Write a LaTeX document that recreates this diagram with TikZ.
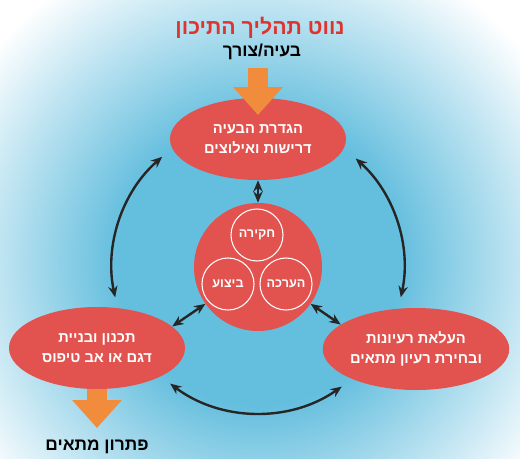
\documentclass[tikz,border=0pt]{standalone}
\usepackage{fontspec}
\setmainfont{Liberation Sans}
\newfontfamily\hebfont[Script=Hebrew]{Liberation Sans}
\TeXXeTstate=1
\usetikzlibrary{arrows.meta,shapes.geometric}
\definecolor{glowblue}{RGB}{100,190,222}
\definecolor{stagered}{RGB}{226,82,78}
\definecolor{titlered}{RGB}{222,52,48}
\definecolor{floworange}{RGB}{240,140,60}
\pgfdeclareradialshading{glow}{\pgfpoint{0bp}{0bp}}{color(0bp)=(glowblue); color(10bp)=(glowblue); color(24bp)=(white); color(50bp)=(white)}
\def\heb#1{\beginR#1\endR}
\tikzset{
	stage/.style={ellipse, fill=stagered, minimum width=132pt, minimum height=61.5pt, inner sep=0pt, text=white, align=center, font=\hebfont\bfseries\fontsize{11}{15}\selectfont},
	hub/.style={circle, fill=stagered, minimum size=96pt, inner sep=0pt},
	phase/.style={circle, draw=white, line width=0.8pt, minimum size=39pt, inner sep=0pt, text=white, font=\hebfont\bfseries\fontsize{9.5}{11}\selectfont},
	link/.style={line width=1.8pt, draw=black!85, {Stealth[length=8.5pt,width=7pt]}-{Stealth[length=8.5pt,width=7pt]}},
	flow/.style={draw=floworange, line width=15pt, -{Triangle[length=21pt,width=36pt]}},
	caption/.style={font=\hebfont\bfseries\fontsize{13}{15}\selectfont}
}

\begin{document}
\begin{tikzpicture}[x=0.75pt, y=0.75pt]
			%%%%% START %%%%%
			
			\useasboundingbox (0, 0) rectangle (520, 458);
			\begin{scope}
				\clip (0, 0) rectangle (520, 458);
				\fill[white] (0, 0) rectangle (520, 458);
				\shade[shading=glow] (258, 195) circle (354);
			\end{scope}
			
			\node[font=\hebfont\bfseries\fontsize{16}{18}\selectfont, text=titlered] (title) at (260, 430) {\heb{נווט תהליך התיכון}};
			\node[caption] (need) at (262, 406) {\heb{בעיה/צורך}};
			
			\node[stage] (define) at (258, 319) {\heb{הגדרת הבעיה}\\\heb{דרישות ואילוצים}};
			\node[stage] (plan) at (97, 110) {\heb{תכנון ובניית}\\\heb{דגם או אב טיפוס}};
			\node[stage] (ideas) at (416, 109) {\heb{העלאת רעיונות}\\\heb{ובחירת רעיון מתאים}};
			
			\node[hub] (hub) at (258, 191) {};
			\node[phase] (inquiry) at (257, 223) {\heb{חקירה}};
			\node[phase] (execution) at (228, 174) {\heb{ביצוע}};
			\node[phase] (evaluation) at (286, 174) {\heb{הערכה}};
			
			\node[caption] (solution) at (97, 11) {\heb{פתרון מתאים}};
			
			\coordinate (intake) at (258, 390);
			\coordinate (intaketip) at (258, 343);
			\coordinate (outlet) at (97, 30);
			\draw[flow] (intake) -- (intaketip);
			\draw[flow] (plan.south) -- (outlet);
			
			\draw[link] (define) -- (hub);
			\draw[link] (hub.215) -- (plan.16);
			\draw[link] (hub.325) -- (ideas.162);
			
			\draw[link] ([shift={(131:146)}]hub.center) arc[start angle=131, end angle=192, radius=146];
			\draw[link] ([shift={(233:146)}]hub.center) arc[start angle=233, end angle=305, radius=146];
			\draw[link] ([shift={(-12:146)}]hub.center) arc[start angle=-12, end angle=48, radius=146];
			
			%%%%% END %%%%%
\end{tikzpicture}
\end{document}
